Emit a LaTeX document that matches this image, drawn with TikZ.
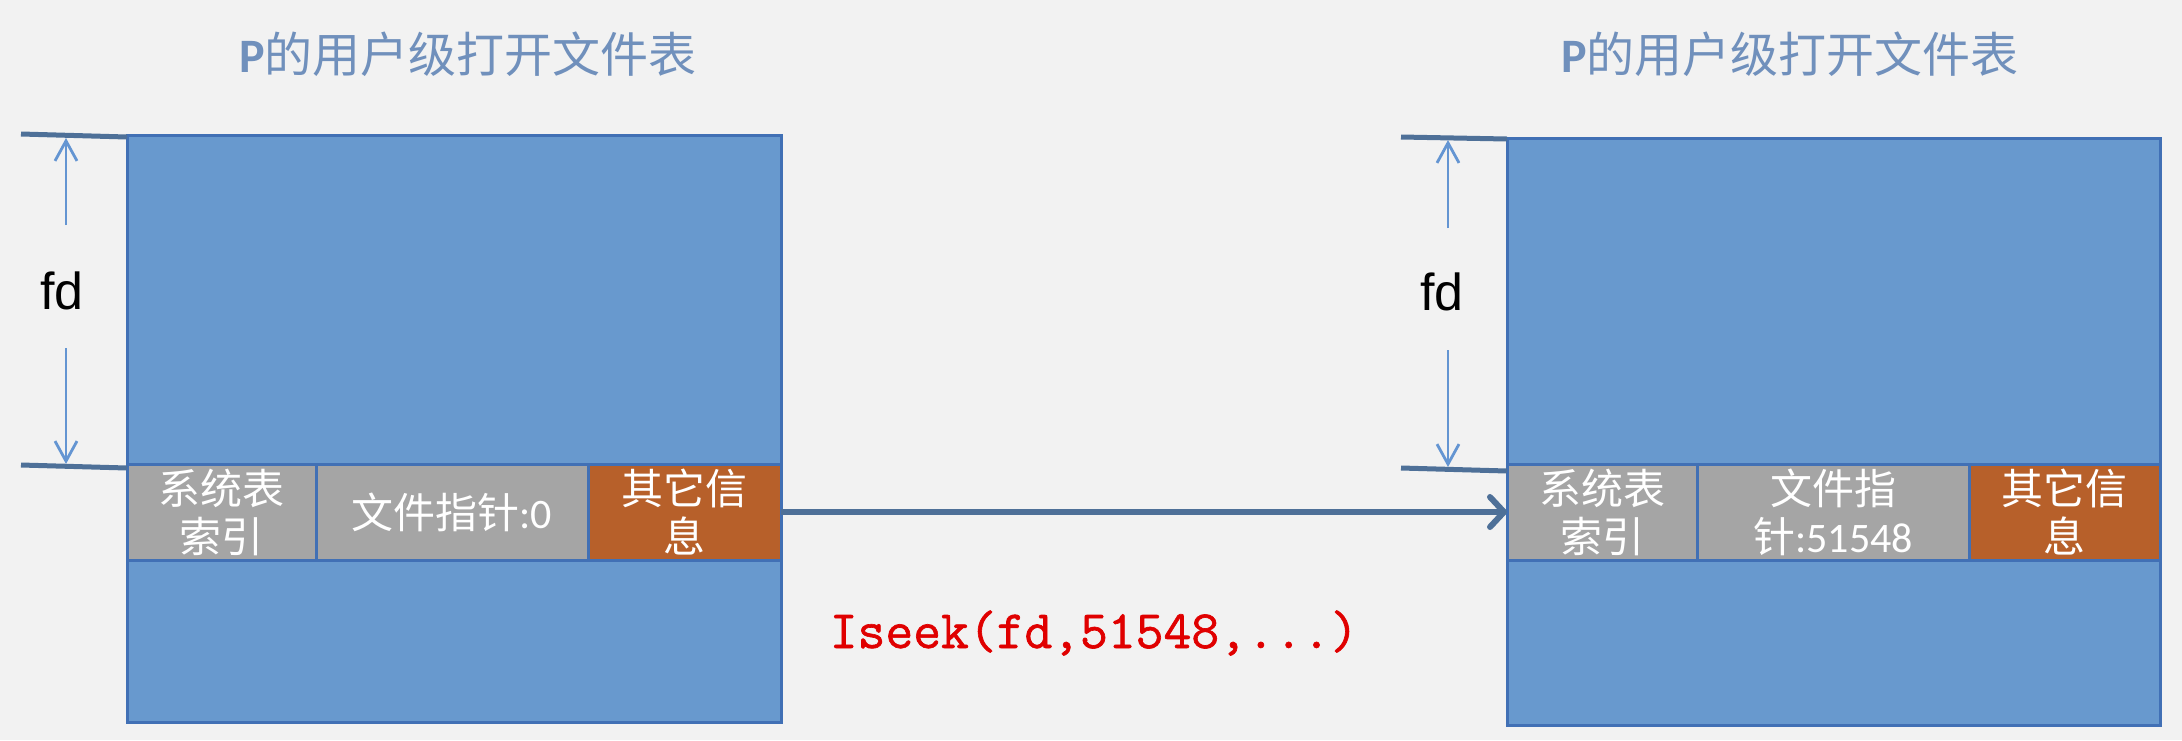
\documentclass[tikz,border=0pt]{standalone}
\usepackage{fontspec}
\setmainfont{Carlito}
\newfontfamily\cjk{Noto Sans CJK SC}
\newfontfamily\codefont[FakeBold=1.2]{Latin Modern Mono}
\newfontfamily\labelfont{Liberation Sans}
\usetikzlibrary{arrows.meta}
\definecolor{bgcol}{HTML}{F2F2F2}
\definecolor{tabfill}{HTML}{6899CE}
\definecolor{tabline}{HTML}{4170B5}
\definecolor{cellgray}{HTML}{A5A5A5}
\definecolor{cellorange}{HTML}{B7602A}
\definecolor{arrowcol}{HTML}{4E7098}
\definecolor{measurecol}{HTML}{6495D2}
\definecolor{titlecol}{HTML}{7090BC}
\definecolor{codered}{HTML}{E00000}
\tikzset{
  tab/.style={draw=tabline,fill=tabfill,line width=3pt,inner sep=0pt,outer sep=0pt,anchor=north west},
  cell/.style={draw=tabline,line width=3pt,inner sep=0pt,outer sep=0pt,anchor=north west,
               minimum height=96pt,text=white,align=center,font=\cjk\fontsize{42}{48}\selectfont},
  graycell/.style={cell,fill=cellgray},
  orangecell/.style={cell,fill=cellorange},
  tick/.style={draw=arrowcol,line width=5pt},
  measure/.style={draw=measurecol,line width=2.8pt,-{Straight Barb[length=20pt,width=22pt]}},
  movearrow/.style={draw=arrowcol,line width=6pt,
                    -{Straight Barb[length=14pt,width=30pt,line cap=round,line join=round]}},
  title/.style={text=titlecol,font=\fontsize{48}{56}\selectfont},
  fdlabel/.style={text=black,font=\labelfont\fontsize{52}{60}\selectfont},
}
\begin{document}
\begin{tikzpicture}[x=1pt,y=-1pt]
\fill[bgcol] (0,0) rectangle (2182,740);
\useasboundingbox (0,0) rectangle (2182,740);
%titles
\node[title] (ltitle) at (468,54) {\textbf{P}{\cjk 的用户级打开文件表}};
\node[title] (rtitle) at (1790,54) {\textbf{P}{\cjk 的用户级打开文件表}};
%tables
\node[tab,minimum width=654pt,minimum height=587pt] (ltab) at (127,135) {};
\node[tab,minimum width=653pt,minimum height=587pt] (rtab) at (1507,138) {};
%cells
\node[graycell,minimum width=189pt] (lidx) at (127,464) {系统表\\索引};
\node[graycell,minimum width=272pt] (lptr) at (316,464) {文件指针{\rmfamily:0}};
\node[orangecell,minimum width=193pt] (lother) at (588,464) {其它信\\息};
\node[graycell,minimum width=190pt] (ridx) at (1507,464) {系统表\\索引};
\node[graycell,minimum width=272pt] (rptr) at (1697,464) {文件指\\针{\rmfamily:51548}};
\node[orangecell,minimum width=191pt] (rother) at (1969,464) {其它信\\息};
%fd marks
\coordinate (ltopa) at (21,134);
\coordinate (ltopb) at (127,137);
\coordinate (lbota) at (21,465);
\coordinate (lbotb) at (127,468);
\coordinate (rtopa) at (1401,137);
\coordinate (rtopb) at (1507,139);
\coordinate (rbota) at (1401,468);
\coordinate (rbotb) at (1507,471);
\draw[tick] (ltopa) -- (ltopb);
\draw[tick] (lbota) -- (lbotb);
\draw[tick] (rtopa) -- (rtopb);
\draw[tick] (rbota) -- (rbotb);
\node[fdlabel] (lfd) at (62,291) {fd};
\node[fdlabel] (rfd) at (1442,292) {fd};
\coordinate (lup) at (66,138);
\coordinate (ldown) at (66,464);
\coordinate (rup) at (1448,140);
\coordinate (rdown) at (1448,467);
\draw[measure] (66,225) -- (lup);
\draw[measure] (66,348) -- (ldown);
\draw[measure] (1448,228) -- (rup);
\draw[measure] (1448,350) -- (rdown);
%move
\draw[movearrow] (lother.east) -- (ridx.west);
\node[anchor=base,text=codered,font=\codefont\fontsize{54}{60}\selectfont] (call) at (1094,648) {Iseek(fd,51548,...)};
\end{tikzpicture}
\end{document}
